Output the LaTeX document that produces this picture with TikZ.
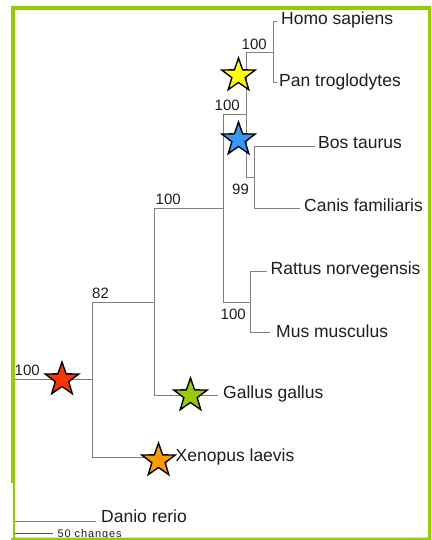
\documentclass[tikz,border=0pt]{standalone}
\usepackage{fontspec}
\setmainfont{Liberation Sans}
\newfontfamily\scalebarfont[LetterSpace=8]{Liberation Sans}
\usetikzlibrary{shapes.geometric}

\definecolor{framegreen}{HTML}{99CC00}
\definecolor{treegray}{HTML}{7F7F7F}
\definecolor{labelgray}{HTML}{1E1E1E}
\definecolor{staryellow}{HTML}{FFFF00}
\definecolor{starblue}{HTML}{3399FF}
\definecolor{starred}{HTML}{FF3300}
\definecolor{stargreen}{HTML}{99CC00}
\definecolor{starorange}{HTML}{FF9900}

\begin{document}
\begin{tikzpicture}[x=1pt,y=-1pt,
  branch/.style={draw=treegray, line width=1pt},
  taxon/.style={anchor=base west, inner sep=0pt, text=labelgray,
                font=\fontsize{17.5}{20}\selectfont},
  support/.style={anchor=base west, inner sep=0pt, text=labelgray,
                  font=\fontsize{15}{18}\selectfont},
  event/.style={star, star points=5, star point ratio=2.5,
                minimum size=35pt, inner sep=0pt,
                draw=black, line width=1.4pt}
]
\useasboundingbox (0,0) rectangle (431,540);
\fill[white] (0,0) rectangle (431,540);

% internal nodes (x of the vertical bar, y of the incoming branch)
\coordinate (nRoot)  at (14.5,379);
\coordinate (n82)    at (92,379);
\coordinate (nAmn)   at (154,302);
\coordinate (nMam)   at (223,208);
\coordinate (nBoreo) at (246,115);
\coordinate (nPrim)  at (273,53);
\coordinate (nLaur)  at (254,177);
\coordinate (nRod)   at (250,302);

% branch tips
\coordinate (homoTip)  at (277,22);
\coordinate (panTip)   at (277,83);
\coordinate (bosTip)   at (315,147);
\coordinate (canTip)   at (300,208);
\coordinate (ratTip)   at (267,271);
\coordinate (musTip)   at (270,332);
\coordinate (galTip)   at (218,395);
\coordinate (xenTip)   at (160,457);
\coordinate (danTip)   at (96,521);

% branches
\draw[branch] (nRoot) -- (n82);
\draw[branch] (nRoot) |- (danTip);
\draw[branch] (n82) |- (nAmn);
\draw[branch] (n82) |- (xenTip);
\draw[branch] (nAmn) |- (nMam);
\draw[branch] (nAmn) |- (galTip);
\draw[branch] (nMam) |- (nBoreo);
\draw[branch] (nMam) |- (nRod);
\draw[branch] (nBoreo) |- (nPrim);
\draw[branch] (nBoreo) |- (nLaur);
\draw[branch] (nPrim) |- (homoTip);
\draw[branch] (nPrim) |- (panTip);
\draw[branch] (nLaur) |- (bosTip);
\draw[branch] (nLaur) |- (canTip);
\draw[branch] (nRod) |- (ratTip);
\draw[branch] (nRod) |- (musTip);

% scale bar
\coordinate (sbL) at (15,533);
\coordinate (sbR) at (53,533);
\draw[draw=black!70, line width=0.8pt] (sbL) -- (sbR);
\node[anchor=base west, inner sep=0pt, text=labelgray,
      font=\fontsize{11}{13}\scalebarfont] (sbText) at (57.5,537) {50 changes};

% event stars
\node[event, fill=staryellow] (starYellow) at (238.5,75.5) {};
\node[event, fill=starblue]   (starBlue)   at (238.5,139.5) {};
\node[event, fill=starred]    (starRed)    at (62,379.5) {};
\node[event, fill=stargreen]  (starGreen)  at (190.5,395.5) {};
\node[event, fill=starorange] (starOrange) at (158.5,460.5) {};

% taxa
\node[taxon] (homo) at (281,25)  {Homo sapiens};
\node[taxon] (pan)  at (279,87)  {Pan troglodytes};
\node[taxon] (bos)  at (318,149) {Bos taurus};
\node[taxon] (can)  at (304,211) {Canis familiaris};
\node[taxon] (rat)  at (270.5,274) {Rattus norvegensis};
\node[taxon] (mus)  at (276,337) {Mus musculus};
\node[taxon] (gal)  at (223,398) {Gallus gallus};
\node[taxon] (xen)  at (175.5,461) {Xenopus laevis};
\node[taxon] (dan)  at (101,522) {Danio rerio};

% bootstrap support
\node[support] (bsPrim)  at (241.5,50)  {100};
\node[support] (bsBoreo) at (214.5,111) {100};
\node[support] (bsLaur)  at (232,194)   {99};
\node[support] (bsMam)   at (155.5,204) {100};
\node[support] (bsRod)   at (220.5,319) {100};
\node[support] (bs82)    at (92,298)    {82};
\node[support] (bsRoot)  at (14.5,375)  {100};

% frame
\fill[framegreen, even odd rule] (11,6) rectangle (431,540)
                                 (15,10) rectangle (428,537.5);
\fill[white] (11,483) rectangle (13,537.5);
\end{tikzpicture}
\end{document}
